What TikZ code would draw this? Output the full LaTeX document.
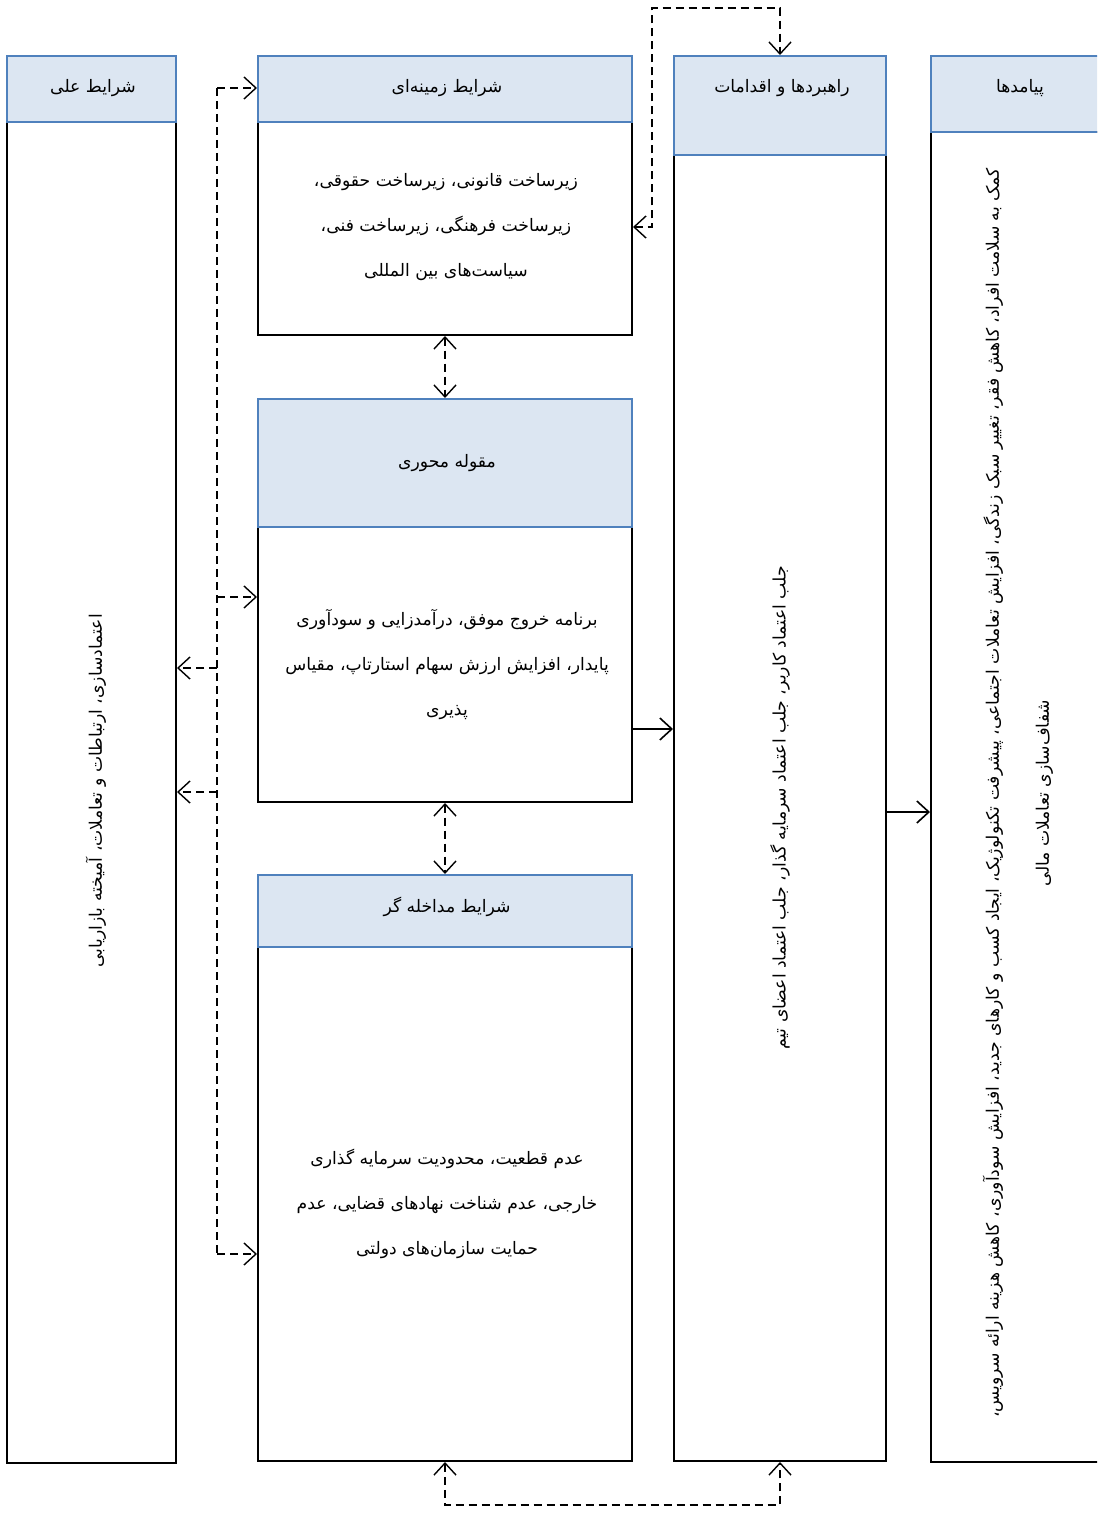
\documentclass[tikz,border=0pt]{standalone}
\usepackage{fontspec}
\newfontfamily\fa[Script=Arabic]{DejaVu Sans}
\TeXXeTstate=1
\usetikzlibrary{arrows.meta}
\definecolor{hfill}{HTML}{DCE6F2}
\definecolor{hline}{HTML}{4F81BD}
\newcommand\rtl[1]{\beginR #1\endR}
\begin{document}
\begin{tikzpicture}[x=0.5pt,y=-0.5pt,
  body/.style={draw=black, line width=1pt, fill=white, inner sep=0pt},
  hdr/.style={draw=hline, line width=1pt, fill=hfill, inner sep=0pt},
  txt/.style={font=\fa\fontsize{8.6}{22.5}\selectfont, align=center, inner sep=0pt},
  tip/.style={-{Straight Barb[length=6pt,width=11pt]}},
  dtip/.style={{Straight Barb[length=6pt,width=11pt]}-{Straight Barb[length=6pt,width=11pt]}},
  dsh/.style={line width=0.7pt, dash pattern=on 4pt off 2.5pt},
  sol/.style={line width=0.8pt},
]
\useasboundingbox (0,0) rectangle (1097,1513);
\clip (0,0) rectangle (1097,1513);
% bodies
\node[body, minimum width=84.5pt, minimum height=670.5pt] (b1) at (91.5,792.5) {};
\node[body, minimum width=187pt, minimum height=106.5pt] (b2t) at (445,228.5) {};
\node[body, minimum width=187pt, minimum height=137.5pt] (bm) at (445,664.5) {};
\node[body, minimum width=187pt, minimum height=257pt] (bb) at (445,1204) {};
\node[body, minimum width=106pt, minimum height=653pt] (b3) at (780,808) {};
\node[body, minimum width=89pt, minimum height=665pt] (b4) at (1020,797) {};
% headers
\node[hdr, minimum width=84.5pt, minimum height=33pt] (h1) at (91.5,89) {};
\node[hdr, minimum width=187pt, minimum height=33pt] (h2) at (445,89) {};
\node[hdr, minimum width=187pt, minimum height=64pt] (hm) at (445,463) {};
\node[hdr, minimum width=187pt, minimum height=36pt] (hb) at (445,911) {};
\node[hdr, minimum width=106pt, minimum height=49.5pt] (h3) at (780,105.5) {};
\node[hdr, minimum width=89pt, minimum height=38pt] (h4) at (1020,94) {};
% header texts
\node[txt] (h1t) at (93,88) {\rtl{شرایط علی}};
\node[txt] (h2t) at (447,88) {\rtl{شرایط زمینه‌ای}};
\node[txt] (hmt) at (447,463) {\rtl{مقوله محوری}};
\node[txt] (hbt) at (447,907) {\rtl{شرایط مداخله گر}};
\node[txt] (h3t) at (782,88) {\rtl{راهبردها و اقدامات}};
\node[txt] (h4t) at (1020,88) {\rtl{پیامدها}};
% body texts
\node[txt] (t2t) at (446,227) {\rtl{زیرساخت قانونی، زیرساخت حقوقی،}\\\rtl{زیرساخت فرهنگی، زیرساخت فنی،}\\\rtl{سیاست‌های بین المللی}};
\node[txt] (tm) at (447,665) {\rtl{برنامه خروج موفق، درآمدزایی و سودآوری}\\\rtl{پایدار، افزایش ارزش سهام استارتاپ، مقیاس}\\\rtl{پذیری}};
\node[txt] (tb) at (447,1204) {\rtl{عدم قطعیت، محدودیت سرمایه گذاری}\\\rtl{خارجی، عدم شناخت نهادهای قضایی، عدم}\\\rtl{حمایت سازمان‌های دولتی}};
\node[txt, rotate=90] (t1) at (96,791) {\rtl{اعتمادسازی، ارتباطات و  تعاملات، آمیخته بازاریابی}};
\node[txt, rotate=90] (t3) at (780,808) {\rtl{جلب اعتماد کاربر، جلب اعتماد سرمایه گذار، جلب اعتماد اعضای تیم}};
\node[txt, rotate=90, font=\fa\fontsize{8.6}{25}\selectfont] (t4) at (1018,793) {\rtl{کمک به سلامت افراد، کاهش فقر، تغییر سبک زندگی، افزایش تعاملات اجتماعی، پیشرفت تکنولوژیک، ایجاد کسب و کارهای جدید، افزایش سودآوری، کاهش هزینه ارائه سرویس،}\\\rtl{شفاف‌سازی تعاملات مالی}};
% coordinates
\coordinate (busT) at (217,88);
\coordinate (busM) at (217,597);
\coordinate (busB) at (217,1254);
\coordinate (busL1) at (217,668);
\coordinate (busL2) at (217,792);
\coordinate (topR) at (652,227);
\coordinate (topC1) at (652,8);
\coordinate (topC2) at (780,8);
\coordinate (botC1) at (445,1505);
\coordinate (botC2) at (780,1505);
\coordinate (sm) at (632,729);
\coordinate (s3) at (886,812);
% connectors
\draw[dsh] (busT) -- (busB);
\draw[dsh, tip] (busT) -- (h2.west |- busT);
\draw[dsh, tip] (busM) -- (bm.west |- busM);
\draw[dsh, tip] (busB) -- (bb.west |- busB);
\draw[dsh, tip] (busL1) -- (b1.east |- busL1);
\draw[dsh, tip] (busL2) -- (b1.east |- busL2);
\draw[dsh, dtip] (b2t.south) -- (hm.north);
\draw[dsh, dtip] (bm.south) -- (hb.north);
\draw[dsh, dtip] (b2t.east |- topR) -- (topR) -- (topC1) -- (topC2) -- (h3.north);
\draw[dsh, dtip] (bb.south) -- (botC1) -- (botC2) -- (b3.south);
\draw[sol, tip] (sm) -- (b3.west |- sm);
\draw[sol, tip] (s3) -- (b4.west |- s3);
\end{tikzpicture}
\end{document}
